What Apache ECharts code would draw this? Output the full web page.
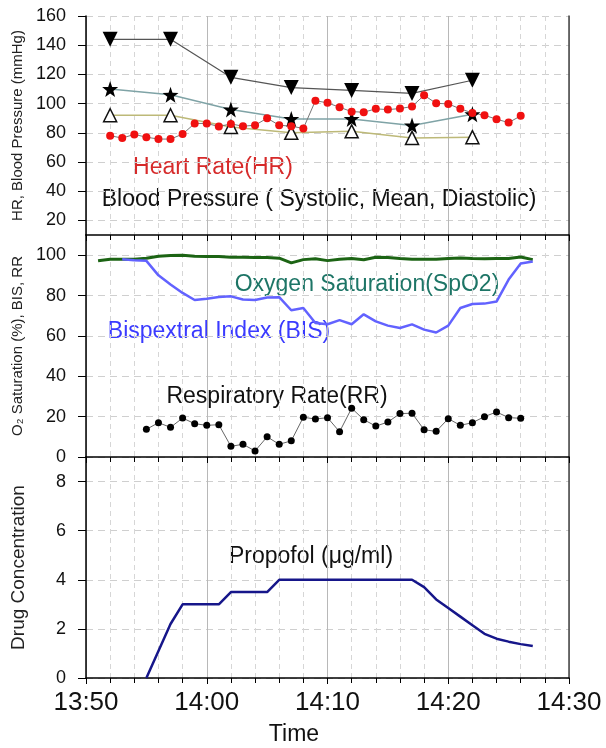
<!DOCTYPE html>
<html>
<head>
<meta charset="UTF-8">
<title>Anesthesia monitoring</title>
<script src="https://cdn.jsdelivr.net/npm/echarts@6/dist/echarts.min.js"></script>
<style>
  html, body { margin: 0; padding: 0; background: #fff; }
  #main { width: 606px; height: 748px; }
</style>
</head>
<body>
<div id="main"></div>
<script type="text/javascript">
// x values are minutes after 13:50
var bpMinutes = [2, 7, 12, 17, 22, 27, 32];
var systolic  = [144, 144, 118, 111, 109, 107, 116];
var meanBP    = [110, 106, 96, 89.5, 89.5, 85, 92.7];
var diastolic = [92, 92, 84, 80, 81, 76.5, 77];

var hrMinutes = [2,3,4,5,6,7,8,9,10,11,12,13,14,15,16,17,18,19,20,21,22,23,24,25,26,27,28,29,30,31,32,33,34,35,36];
var heartRate = [78,76.4,78.9,77,75.7,75.7,79.1,86.4,86.4,84.3,86.1,84.5,85.2,90,85.2,84.5,83,
                 102,100.5,97.5,94.5,94.1,96.4,95.9,96.6,98,105.7,100.2,99.8,96.4,93.6,92,89.3,87,91.6];

var spo2Minutes = [1,2,3,4,5,6,7,8,9,10,11,12,13,14,15,16,17,18,19,20,21,22,23,24,25,26,27,28,29,30,31,32,33,34,35,36,37];
var spo2 = [97.2,98,98,98,98.5,99.5,99.8,100,99.5,99.3,99.3,99,99,98.8,98.8,98.5,96.2,97.8,98.2,97.3,98,98.4,97.7,99,98.8,98.3,98,98,98,98.3,98.6,98.3,98.2,98.3,98.4,99.1,97.8];

var bisMinutes = [3,4,5,6,7,8,9,10,11,12,13,14,15,16,17,18,19,20,21,22,23,24,25,26,27,28,29,30,31,32,33,34,35,36,37];
var bis = [98,97.5,97.2,90,85.5,81.3,77.8,78.4,79.3,79.6,78,77.8,79,79.2,72.7,73.8,66.4,65.8,67.8,65.8,
           70.7,67.2,65.1,63.9,65.7,63.1,61.7,65.1,73.8,75.8,76,77,87.9,95.9,96.9];

var rrMinutes = [5,6,7,8,9,10,11,12,13,14,15,16,17,18,19,20,21,22,23,24,25,26,27,28,29,30,31,32,33,34,35,36];
var respRate = [13.7,17,14.7,19.3,16.5,15.7,16,5.3,6.3,3,10,6.3,8,19.7,18.8,19.5,12.5,24.2,18.5,15.3,
                17.3,21.5,21.7,13.5,12.7,19,15.7,17,20,22.3,19.5,19.2];

var propMinutes = [5,6,7,8,11,12,15,16,27,28,29,30,31,32,33,34,35,36,37];
var propofol = [0,1.1,2.2,3,3,3.5,3.5,4,4,3.7,3.2,2.85,2.5,2.15,1.8,1.6,1.48,1.38,1.3];

var topTicks = [20, 40, 60, 80, 100, 120, 140, 160];
var midTicks = [0, 20, 40, 60, 80, 100];
var botTicks = [0, 2, 4, 6, 8];

function pairs(xs, ys) {
  return xs.map(function (x, i) { return [x, ys[i]]; });
}
function timeLabel(v) {
  var t = 13 * 60 + 50 + v;
  var h = Math.floor(t / 60), m = t % 60;
  return h + ':' + (m < 10 ? '0' + m : m);
}

var FONT = 'Liberation Sans, Arial, sans-serif';
var star = 'path://M0,-10 L2.35,-3.24 9.51,-3.09 3.8,1.24 5.88,8.09 0,4 -5.88,8.09 -3.8,1.24 -9.51,-3.09 -2.35,-3.24Z';

function xAxisFor(gi, showLabels) {
  return {
    type: 'value', gridIndex: gi, min: 0, max: 40, interval: 10,
    axisLine: { show: true, onZero: false, lineStyle: { color: '#000', width: 1.5 } },
    axisTick: { show: true, length: 6, lineStyle: { color: '#000' } },
    minorTick: { show: true, splitNumber: 5, length: 5, lineStyle: { color: '#000' } },
    splitLine: { show: true, lineStyle: { color: '#b8b8b8', width: 1 } },
    minorSplitLine: { show: true, lineStyle: { color: '#d6d6d6', type: [5, 4] } },
    axisLabel: { show: showLabels, formatter: timeLabel, fontSize: 26, color: '#111', fontFamily: FONT, margin: 12 }
  };
}
function yAxisFor(gi, min, max, ticks, name, nameSize) {
  return {
    type: 'value', gridIndex: gi, min: min, max: max,
    name: name, nameLocation: 'middle', nameRotate: 90, nameGap: 58,
    nameTextStyle: { fontSize: nameSize, color: '#222', fontFamily: FONT },
    axisLine: { show: true, lineStyle: { color: '#000', width: 1.5 } },
    axisTick: { show: true, length: 8, customValues: ticks, lineStyle: { color: '#000' } },
    axisLabel: { customValues: ticks, fontSize: 18, color: '#111', fontFamily: FONT, margin: 20 },
    splitLine: { show: true, lineStyle: { color: '#cfcfcf', type: [7, 5] } }
  };
}
function rightBorder(gi, min, max) {
  return {
    type: 'value', gridIndex: gi, position: 'right', min: min, max: max,
    axisLine: { show: true, lineStyle: { color: '#444', width: 1.5 } },
    axisTick: { show: false }, axisLabel: { show: false }, splitLine: { show: false }
  };
}

var myChart = echarts.init(document.getElementById('main'));
var option = {
  backgroundColor: '#fff',
  animation: false,
  grid: [
    { left: 86, right: 37, top: 16, height: 219 },
    { left: 86, right: 37, top: 235, height: 222 },
    { left: 86, right: 37, top: 457, height: 221 }
  ],
  xAxis: [xAxisFor(0, false), xAxisFor(1, false), xAxisFor(2, true)],
  yAxis: [
    yAxisFor(0, 10, 160, topTicks, 'HR, Blood Pressure (mmHg)', 15),
    yAxisFor(1, 0, 110, midTicks, 'O₂ Saturation (%), BIS, RR', 15),
    yAxisFor(2, 0, 9, botTicks, 'Drug Concentration', 19),
    rightBorder(0, 10, 160), rightBorder(1, 0, 110), rightBorder(2, 0, 9)
  ],
  graphic: [
    { type: 'text', x: 213, y: 168, style: { text: 'Heart Rate(HR)', fill: '#d62a2a', font: '23px ' + FONT, align: 'center', verticalAlign: 'middle' } },
    { type: 'text', x: 319, y: 200, style: { text: 'Blood Pressure ( Systolic, Mean, Diastolic)', fill: '#111', font: '23px ' + FONT, align: 'center', verticalAlign: 'middle' } },
    { type: 'text', x: 367, y: 285, style: { text: 'Oxygen Saturation(SpO2)', fill: '#1d7566', font: '23px ' + FONT, align: 'center', verticalAlign: 'middle' } },
    { type: 'text', x: 219, y: 332, style: { text: 'Bispextral Index (BIS)', fill: '#3a3aff', font: '23px ' + FONT, align: 'center', verticalAlign: 'middle' } },
    { type: 'text', x: 277, y: 397, style: { text: 'Respiratory Rate(RR)', fill: '#111', font: '23px ' + FONT, align: 'center', verticalAlign: 'middle' } },
    { type: 'text', x: 311, y: 557, style: { text: 'Propofol (μg/ml)', fill: '#111', font: '23px ' + FONT, align: 'center', verticalAlign: 'middle' } },
    { type: 'text', x: 294, y: 735, style: { text: 'Time', fill: '#111', font: '23px ' + FONT, align: 'center', verticalAlign: 'middle' } }
  ],
  series: [
    {
      name: 'Diastolic', type: 'line', xAxisIndex: 0, yAxisIndex: 0,
      data: pairs(bpMinutes, diastolic),
      lineStyle: { color: '#bdb978', width: 1.5 },
      symbol: 'triangle', symbolSize: 13,
      itemStyle: { color: '#fff', borderColor: '#111', borderWidth: 1.5 }
    },
    {
      name: 'Mean', type: 'line', xAxisIndex: 0, yAxisIndex: 0,
      data: pairs(bpMinutes, meanBP),
      lineStyle: { color: '#7fa3a6', width: 1.5 },
      symbol: star, symbolSize: 16,
      itemStyle: { color: '#000' }
    },
    {
      name: 'Systolic', type: 'line', xAxisIndex: 0, yAxisIndex: 0,
      data: pairs(bpMinutes, systolic),
      lineStyle: { color: '#555', width: 1.2 },
      symbol: 'triangle', symbolRotate: 180, symbolSize: 15,
      itemStyle: { color: '#000' }
    },
    {
      name: 'HR', type: 'line', xAxisIndex: 0, yAxisIndex: 0,
      data: pairs(hrMinutes, heartRate),
      lineStyle: { color: '#777', width: 1 },
      symbol: 'circle', symbolSize: 8,
      itemStyle: { color: '#f01010' }
    },
    {
      name: 'SpO2', type: 'line', xAxisIndex: 1, yAxisIndex: 1,
      data: pairs(spo2Minutes, spo2),
      lineStyle: { color: '#1c6414', width: 3 },
      showSymbol: false, symbol: 'none'
    },
    {
      name: 'BIS', type: 'line', xAxisIndex: 1, yAxisIndex: 1,
      data: pairs(bisMinutes, bis),
      lineStyle: { color: '#6262ff', width: 2.5 },
      showSymbol: false, symbol: 'none'
    },
    {
      name: 'RR', type: 'line', xAxisIndex: 1, yAxisIndex: 1,
      data: pairs(rrMinutes, respRate),
      lineStyle: { color: '#666', width: 1 },
      symbol: 'circle', symbolSize: 7,
      itemStyle: { color: '#000' }
    },
    {
      name: 'Propofol', type: 'line', xAxisIndex: 2, yAxisIndex: 2,
      data: pairs(propMinutes, propofol),
      lineStyle: { color: '#16168a', width: 2.5 },
      showSymbol: false, symbol: 'none'
    }
  ]
};
myChart.setOption(option);
</script>
</body>
</html>
